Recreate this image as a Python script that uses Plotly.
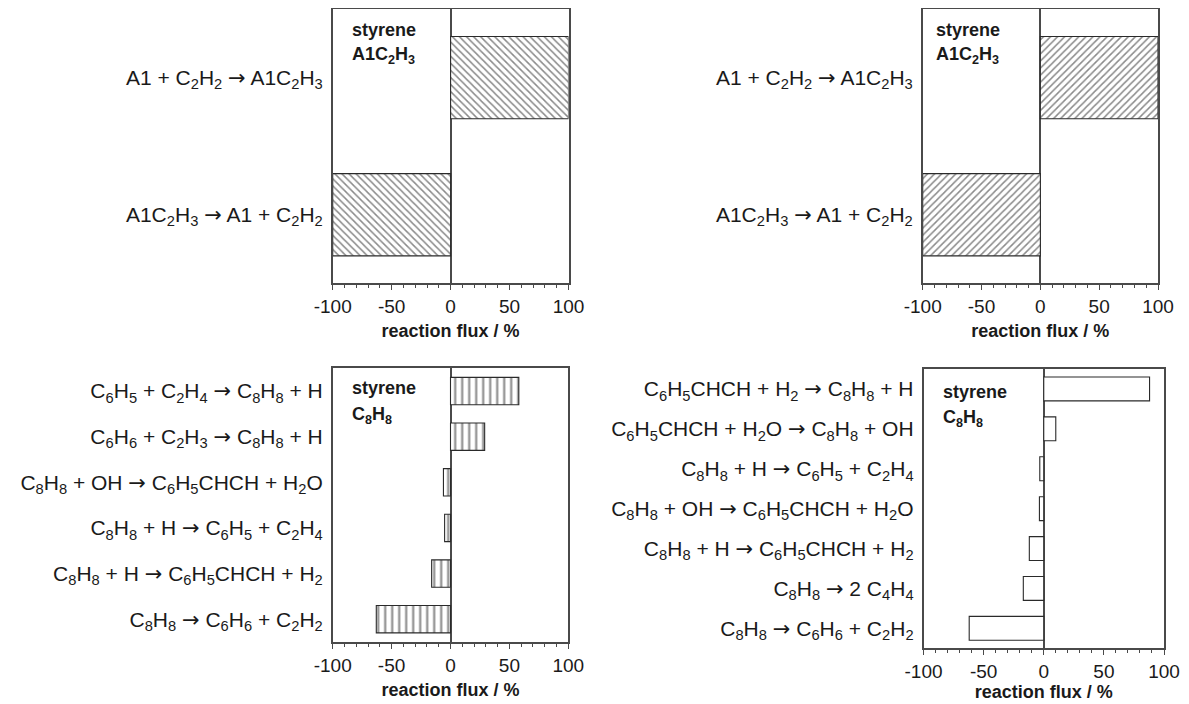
import plotly.graph_objects as go

AR = "<span style='font-family:DejaVu Sans'>→</span>"

# ---------------- data ----------------
tl_labels = ["A1 + C<sub>2</sub>H<sub>2</sub> " + AR + " A1C<sub>2</sub>H<sub>3</sub>",
             "A1C<sub>2</sub>H<sub>3</sub> " + AR + " A1 + C<sub>2</sub>H<sub>2</sub>"]
tl_values = [100, -100]

tr_labels = ["A1 + C<sub>2</sub>H<sub>2</sub> " + AR + " A1C<sub>2</sub>H<sub>3</sub>",
             "A1C<sub>2</sub>H<sub>3</sub> " + AR + " A1 + C<sub>2</sub>H<sub>2</sub>"]
tr_values = [100, -100]

bl_labels = ["C<sub>6</sub>H<sub>5</sub> + C<sub>2</sub>H<sub>4</sub> " + AR + " C<sub>8</sub>H<sub>8</sub> + H",
             "C<sub>6</sub>H<sub>6</sub> + C<sub>2</sub>H<sub>3</sub> " + AR + " C<sub>8</sub>H<sub>8</sub> + H",
             "C<sub>8</sub>H<sub>8</sub> + OH " + AR + " C<sub>6</sub>H<sub>5</sub>CHCH + H<sub>2</sub>O",
             "C<sub>8</sub>H<sub>8</sub> + H " + AR + " C<sub>6</sub>H<sub>5</sub> + C<sub>2</sub>H<sub>4</sub>",
             "C<sub>8</sub>H<sub>8</sub> + H " + AR + " C<sub>6</sub>H<sub>5</sub>CHCH + H<sub>2</sub>",
             "C<sub>8</sub>H<sub>8</sub> " + AR + " C<sub>6</sub>H<sub>6</sub> + C<sub>2</sub>H<sub>2</sub>"]
bl_values = [58, 29, -6, -5, -16, -63]

br_labels = ["C<sub>6</sub>H<sub>5</sub>CHCH + H<sub>2</sub> " + AR + " C<sub>8</sub>H<sub>8</sub> + H",
             "C<sub>6</sub>H<sub>5</sub>CHCH + H<sub>2</sub>O " + AR + " C<sub>8</sub>H<sub>8</sub> + OH",
             "C<sub>8</sub>H<sub>8</sub> + H " + AR + " C<sub>6</sub>H<sub>5</sub> + C<sub>2</sub>H<sub>4</sub>",
             "C<sub>8</sub>H<sub>8</sub> + OH " + AR + " C<sub>6</sub>H<sub>5</sub>CHCH + H<sub>2</sub>O",
             "C<sub>8</sub>H<sub>8</sub> + H " + AR + " C<sub>6</sub>H<sub>5</sub>CHCH + H<sub>2</sub>",
             "C<sub>8</sub>H<sub>8</sub> " + AR + " 2 C<sub>4</sub>H<sub>4</sub>",
             "C<sub>8</sub>H<sub>8</sub> " + AR + " C<sub>6</sub>H<sub>6</sub> + C<sub>2</sub>H<sub>2</sub>"]
br_values = [88, 10, -3.3, -3.6, -12, -17, -62]

titles = [("styrene", "A1C<sub>2</sub>H<sub>3</sub>"),
          ("styrene", "A1C<sub>2</sub>H<sub>3</sub>"),
          ("styrene", "C<sub>8</sub>H<sub>8</sub>"),
          ("styrene", "C<sub>8</sub>H<sub>8</sub>")]
x_ticks = [-100, -50, 0, 50, 100]
x_title = "reaction flux / %"

# ---------------- layout geometry ----------------
W, H = 1189, 704
OFF = 8  # page body margin
FONT = "Liberation Sans, Arial, Helvetica, sans-serif"
LINE = "#4a4a4a"
INK = "#1a1a1a"

panels = [
    dict(labels=tl_labels, values=tl_values, pattern="\\", psize=5, px=(332.7, 568.5), py=(9.0, 283.3), stand=9, toff=(17, 21, 47)),
    dict(labels=tr_labels, values=tr_values, pattern="/", psize=5, px=(922.7, 1158.0), py=(9.0, 283.3), stand=9, toff=(11, 21, 47)),
    dict(labels=bl_labels, values=bl_values, pattern="|", psize=7, px=(332.7, 568.3), py=(368.3, 642.0), stand=9, toff=(17, 20, 47)),
    dict(labels=br_labels, values=br_values, pattern="", psize=6, px=(923.5, 1164.0), py=(369.0, 648.3), stand=4, toff=(18, 23, 49)),
]

def clamp(v):
    return max(0.0, min(1.0, v))

def px2x(v):
    return clamp((v - OFF) / W)

def px2y(v):
    return clamp(1 - (v - OFF) / H)

fig = go.Figure()
layout = dict(
    width=W, height=H,
    margin=dict(l=0, r=0, t=0, b=0, autoexpand=False),
    paper_bgcolor="white", plot_bgcolor="white",
    showlegend=False,
    font=dict(family=FONT, color=INK, size=16),
    annotations=[],
)

for i, p in enumerate(panels):
    k = "" if i == 0 else str(i + 1)
    xa, ya = "x" + k, "y" + k
    marker = dict(color="white", line=dict(color="#2a2a2a", width=1.1))
    if p["pattern"]:
        marker["pattern"] = dict(shape=p["pattern"], fgcolor="#151515", bgcolor="white",
                                 size=p["psize"], solidity=0.3)
    fig.add_trace(go.Bar(
        x=p["values"], y=p["labels"], orientation="h",
        xaxis=xa, yaxis=ya, width=0.6, marker=marker,
        hoverinfo="x",
    ))
    n = len(p["labels"])
    x0, x1 = p["px"]
    y0, y1 = p["py"]
    layout["xaxis" + k] = dict(
        domain=[px2x(x0), px2x(x1)], anchor=ya, automargin=False,
        range=[-100, 100], tickvals=x_ticks, ticktext=[str(v) for v in x_ticks],
        ticks="outside", ticklen=5, tickwidth=1.2, tickcolor=LINE,
        minor=dict(dtick=10, ticks="outside", ticklen=3, tickwidth=1, tickcolor=LINE),
        showline=True, linecolor=LINE, linewidth=1.5, mirror=True,
        showgrid=False, zeroline=True, zerolinecolor=LINE, zerolinewidth=1.5,
        tickfont=dict(size=19, color=INK, family=FONT),
        title=dict(text="<b>" + x_title + "</b>", standoff=p["stand"],
                   font=dict(size=18, color=INK, family=FONT)),
        fixedrange=True,
    )
    layout["yaxis" + k] = dict(
        domain=[px2y(y1), px2y(y0)], anchor=xa, automargin=False,
        type="category", categoryorder="array", categoryarray=p["labels"],
        range=[n - 0.5, -0.5],
        showline=True, linecolor=LINE, linewidth=1.5, mirror=True,
        showgrid=False, zeroline=False, ticks="",
        ticklabelstandoff=4,
        tickfont=dict(size=21, color=INK, family=FONT),
        fixedrange=True,
    )
    t1, t2 = titles[i]
    dx, dy1, dy2 = p["toff"]
    layout["annotations"].append(dict(
        xref="paper", yref="paper", x=px2x(x0 + dx), y=px2y(y0 + dy1),
        xanchor="left", yanchor="middle", showarrow=False,
        text="<b>" + t1 + "</b>", font=dict(size=18, color=INK, family=FONT)))
    layout["annotations"].append(dict(
        xref="paper", yref="paper", x=px2x(x0 + dx), y=px2y(y0 + dy2),
        xanchor="left", yanchor="middle", showarrow=False,
        text="<b>" + t2 + "</b>", font=dict(size=18, color=INK, family=FONT)))

fig.update_layout(**layout)
fig.write_html("out.html")
